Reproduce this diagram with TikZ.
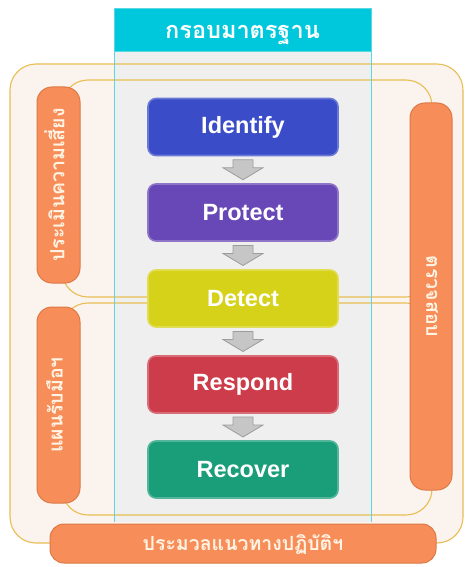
\documentclass[tikz,border=0pt]{standalone}
\usepackage{fontspec}
\setmainfont{Liberation Sans}
\newfontfamily\thaifont[Script=Thai]{Loma}
\begin{document}
\begin{tikzpicture}[x=1pt,y=-1pt,
  box/.style={draw=#1!75!white, line width=1.6pt, fill=#1, rounded corners=8pt,
    minimum width=190pt, minimum height=57pt, text=white, font=\bfseries\fontsize{23.5}{25}\selectfont},
  pill/.style={draw=pillb, line width=1pt, fill=pillf, rounded corners=15pt, inner sep=0pt},
  sidetext/.style={text=pillt, font=\thaifont\bfseries\fontsize{19.5}{21}\selectfont},
  frame/.style={draw=goldl, line width=1.1pt, rounded corners=26pt},
  dnarrow/.pic={\draw[fill=arrf, draw=arrd, line width=0.8pt]
     (-10,-10) -- (10,-10) -- (10,-2) -- (20,-2) -- (0,10) -- (-20,-2) -- (-10,-2) -- cycle;}
]
\definecolor{bgf}{HTML}{FBF3EE}
\definecolor{goldl}{HTML}{E8BE52}
\definecolor{colf}{HTML}{EFEFF0}
\definecolor{cyanl}{HTML}{5AD8E2}
\definecolor{cyanf}{HTML}{00C8DC}
\definecolor{pillf}{HTML}{F78E5A}
\definecolor{pillb}{HTML}{DC7A45}
\definecolor{pillt}{HTML}{FFF4E4}
\definecolor{arrf}{HTML}{C6C6C6}
\definecolor{arrd}{HTML}{9C9C9C}
\definecolor{cid}{HTML}{3A4CC8}
\definecolor{cpr}{HTML}{6847B6}
\definecolor{cde}{HTML}{D6D21A}
\definecolor{cre}{HTML}{CC3C4A}
\definecolor{crc}{HTML}{1A9E7A}
\useasboundingbox (0,0) rectangle (467,567);
\fill[white] (0,0) rectangle (467,567);
% background frames fills
\fill[bgf, rounded corners=26pt] (10,64) rectangle (463,543);
% column fill
\fill[colf] (114,51) rectangle (371,522);
% frame borders
\draw[frame] (10,64) rectangle (463,543);
\draw[frame] (62,80) rectangle (432,297);
\draw[frame] (62,303) rectangle (432,515);
% column borders
\draw[cyanl, line width=1pt] (114,51) -- (114,522);
\draw[cyanl, line width=1pt] (371,51) -- (371,522);
% header
\node[fill=cyanf, draw=cyanl, minimum width=257pt, minimum height=43pt, inner sep=0pt] (head) at (242.5,29.5) {};
\node[text=white, font=\thaifont\bfseries\fontsize{23.5}{25}\selectfont] (headt) at ([yshift=-6pt]head.center) {กรอบมาตรฐาน};
% side pills
\node[pill, minimum width=43pt, minimum height=196pt] (risk) at (58.5,185) {};
\node[rotate=90, sidetext] (riskt) at ([xshift=-4pt]risk.center) {ประเมินความเสี่ยง};
\node[pill, minimum width=43pt, minimum height=196pt] (plan) at (58.5,405) {};
\node[rotate=90, sidetext] (plant) at ([xshift=-4pt]plan.center) {แผนรับมือฯ};
\node[pill, minimum width=42pt, minimum height=387pt] (audit) at (431,296.5) {};
\node[rotate=-90, sidetext] (auditt) at ([xshift=1pt]audit.center) {ตรวจสอบ};
\node[pill, minimum width=386pt, minimum height=39pt, rounded corners=14pt] (code) at (243,543.5) {};
\node[sidetext] (codet) at ([yshift=-1.5pt]code.center) {ประมวลแนวทางปฏิบัติฯ};
% center boxes
\node[box=cid] (id) at (243,127) {Identify};
\node[box=cpr] (pr) at (243,212.5) {Protect};
\node[box=cde] (de) at (243,298.5) {Detect};
\node[box=cre] (re) at (243,384.5) {Respond};
\node[box=crc] (rc) at (243,469.5) {Recover};
% arrows
\path (id.south) -- (pr.north) coordinate[midway] (m1);
\path (pr.south) -- (de.north) coordinate[midway] (m2);
\path (de.south) -- (re.north) coordinate[midway] (m3);
\path (re.south) -- (rc.north) coordinate[midway] (m4);
\pic at (m1) {dnarrow};
\pic at (m2) {dnarrow};
\pic at (m3) {dnarrow};
\pic at (m4) {dnarrow};
\end{tikzpicture}
\end{document}
